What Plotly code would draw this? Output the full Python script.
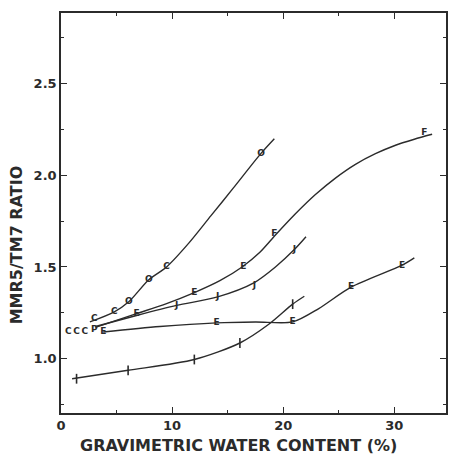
import plotly.graph_objects as go

# ---- data ----
# curve O (steepest)
o_line_x = [2.6, 4.8, 6.1, 7.9, 9.5, 11.5, 13.5, 15.5, 18.0, 19.2]
o_line_y = [1.20, 1.255, 1.31, 1.43, 1.50, 1.63, 1.78, 1.93, 2.12, 2.20]
o_pts_x = [3.0, 4.8, 6.1, 7.9, 9.5, 18.0]
o_pts_y = [1.215, 1.255, 1.31, 1.43, 1.50, 2.12]
o_pts_t = ["C", "C", "O", "O", "C", "O"]

# curve F (S-shaped)
f_line_x = [3.1, 6.8, 9.5, 12.0, 14.3, 16.3, 17.9, 19.3, 21.1, 22.9, 24.7, 26.5, 28.3, 30.05, 31.8, 33.4]
f_line_y = [1.17, 1.245, 1.30, 1.36, 1.425, 1.50, 1.58, 1.674, 1.79, 1.895, 1.985, 2.06, 2.118, 2.163, 2.197, 2.224]
f_pts_x = [6.8, 12.0, 16.4, 19.2, 32.7]
f_pts_y = [1.245, 1.36, 1.50, 1.68, 2.23]
f_pts_t = ["E", "E", "E", "F", "F"]

# curve J
j_line_x = [3.1, 6.8, 10.4, 14.1, 17.4, 19.3, 21.0, 22.05]
j_line_y = [1.175, 1.235, 1.29, 1.337, 1.415, 1.50, 1.595, 1.665]
j_pts_x = [10.4, 14.1, 17.4, 21.0]
j_pts_y = [1.29, 1.337, 1.40, 1.595]
j_pts_t = ["J", "J", "J", "J"]

# curve E (flat then rising)
e_line_x = [3.8, 8.9, 14.0, 17.5, 20.85, 23.2, 26.1, 30.7, 31.8]
e_line_y = [1.145, 1.175, 1.195, 1.20, 1.20, 1.273, 1.39, 1.51, 1.55]
e_pts_x = [3.8, 14.0, 20.85, 26.1, 30.7]
e_pts_y = [1.145, 1.195, 1.20, 1.39, 1.505]
e_pts_t = ["E", "E", "E", "E", "E"]

# curve with tick marks (lowest)
t_line_x = [1.0, 6.04, 12.0, 16.1, 18.7, 20.85, 21.9]
t_line_y = [0.89, 0.936, 0.995, 1.085, 1.187, 1.297, 1.34]
t_pts_x = [1.4, 6.04, 12.0, 16.1, 20.85]
t_pts_y = [0.89, 0.936, 0.995, 1.085, 1.297]

# cluster of points at the origin of curves
c_pts_x = [0.66, 1.4, 2.15, 3.0]
c_pts_y = [1.145, 1.145, 1.145, 1.155]
c_pts_t = ["C", "C", "C", "P"]

x_tickvals = [0, 10, 20, 30]
y_tickvals = [1.0, 1.5, 2.0, 2.5]
y_ticktext = ["1.0", "1.5", "2.0", "2.5"]

INK = "#2b2b2b"
FONT = "DejaVu Sans"

fig = go.Figure()

for lx, ly in [(o_line_x, o_line_y), (f_line_x, f_line_y), (j_line_x, j_line_y),
               (e_line_x, e_line_y), (t_line_x, t_line_y)]:
    fig.add_trace(go.Scatter(x=lx, y=ly, mode="lines",
                             line=dict(color=INK, width=1.4, shape="spline", smoothing=0.8),
                             hoverinfo="skip", showlegend=False))

for px, py, pt in [(o_pts_x, o_pts_y, o_pts_t), (f_pts_x, f_pts_y, f_pts_t),
                   (j_pts_x, j_pts_y, j_pts_t), (e_pts_x, e_pts_y, e_pts_t),
                   (c_pts_x, c_pts_y, c_pts_t)]:
    fig.add_trace(go.Scatter(x=px, y=py, mode="text", text=pt,
                             textposition="middle center",
                             textfont=dict(family=FONT, size=9, color=INK, weight="bold"),
                             showlegend=False))

fig.add_trace(go.Scatter(x=t_pts_x, y=t_pts_y, mode="markers",
                         marker=dict(symbol="line-ns-open", size=7, color=INK,
                                     line=dict(color=INK, width=1.6)),
                         showlegend=False))

axis_common = dict(
    showgrid=False, zeroline=False, showline=True, linecolor=INK, linewidth=1.5,
    mirror="allticks", ticks="inside", tickcolor=INK, tickwidth=1.3,
    tickfont=dict(family=FONT, size=13, color=INK, weight="bold"),
)

fig.update_layout(
    width=450, height=456,
    margin=dict(l=61, r=2, t=13, b=43),
    paper_bgcolor="white", plot_bgcolor="white",
    xaxis=dict(range=[0, 34.65], tickmode="array", tickvals=x_tickvals,
               ticklen=6, minor=dict(dtick=5, ticks="inside", ticklen=3,
                                     tickcolor=INK, tickwidth=1.2),
               **axis_common),
    yaxis=dict(range=[0.703, 2.886], tickmode="array", tickvals=y_tickvals,
               ticktext=y_ticktext, ticklen=6,
               minor=dict(dtick=0.25, tick0=0, ticks="inside", ticklen=3,
                          tickcolor=INK, tickwidth=1.2),
               **axis_common),
    annotations=[
        dict(text="MMR5/TM7 RATIO", xref="paper", yref="paper",
             x=-0.116, y=0.42, xanchor="center", yanchor="middle",
             textangle=-90, showarrow=False,
             font=dict(family=FONT, size=16, color=INK, weight="bold")),
        dict(text="GRAVIMETRIC WATER CONTENT (%)", xref="paper", yref="paper",
             x=0.46, y=-0.08, xanchor="center", yanchor="middle",
             showarrow=False,
             font=dict(family=FONT, size=16, color=INK, weight="bold")),
    ],
)

fig.write_html("out.html")
